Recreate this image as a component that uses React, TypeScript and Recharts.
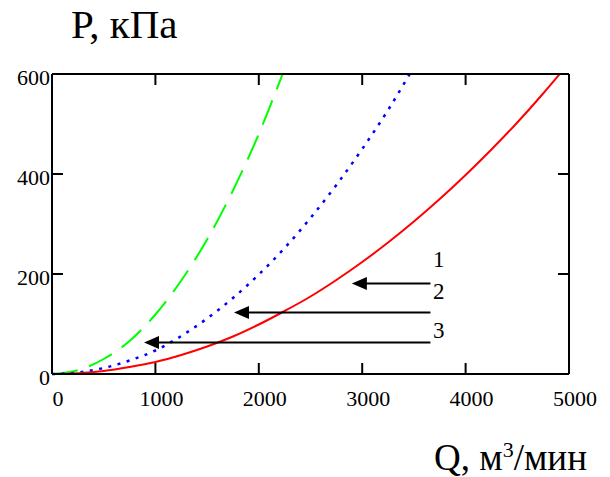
import {
  LineChart,
  Line,
  XAxis,
  YAxis,
  ReferenceLine,
  ReferenceDot,
} from 'recharts'

// values (Q in m3/min, P in kPa)
const qRed = [0, 250, 500, 750, 1000, 1250, 1500, 1750, 2000, 2250, 2500, 2750, 3000, 3250, 3500, 3750, 4000, 4250, 4500, 4750, 4910]
const pRed = [0, 1.6, 6, 14, 24, 38, 55, 75, 99, 126, 155, 188, 224, 263, 305, 350, 398, 449, 503, 561, 600]

const qBlue = [0, 250, 500, 750, 1000, 1250, 1500, 1750, 2000, 2250, 2500, 2750, 3000, 3250, 3460]
const pBlue = [0, 3, 12, 27, 47, 76, 111, 152, 199, 252, 312, 378, 450, 528, 600]

const qGreen = [0, 250, 500, 750, 1000, 1250, 1500, 1750, 2000, 2230]
const pGreen = [0, 7.5, 30, 66, 119, 187, 269, 367, 480, 600]

const xTicks = [0, 1000, 2000, 3000, 4000, 5000]
const yTicks = [0, 200, 400, 600]
const innerXTicks = [1000, 2000, 3000, 4000]
const innerYTicks = [200, 400]

// arrows 1..3 and their numbers
const arrowNames = ['1', '2', '3']
const arrowTipQ = [2900, 1760, 890]
const arrowP = [181, 123, 63]
const arrowTailQ = 3660
const nameQ = 3740
const nameP = [231, 166, 88]

const FONT = '"Liberation Serif", "Times New Roman", serif'
const BLACK = '#000'
// inward tick length, in axis units (about 11px)
const TICK_P = 22
const TICK_Q = 106

const toPoints = (qs: number[], ps: number[]) => qs.map((q, i) => ({ q, p: ps[i] }))
const redData = toPoints(qRed, pRed)
const blueData = toPoints(qBlue, pBlue)
const greenData = toPoints(qGreen, pGreen)

const labelStyle = { fontFamily: FONT, fontSize: 22, fill: BLACK }

function XTick(props: any) {
  const { x, y, payload } = props
  return (
    <text x={x + 6} y={y + 32} textAnchor="middle" style={labelStyle}>
      {payload.value}
    </text>
  )
}

function YTick(props: any) {
  const { x, y, payload } = props
  return (
    <text x={x - 2} y={y + 11} textAnchor="end" style={labelStyle}>
      {payload.value}
    </text>
  )
}

function ArrowHead(props: any) {
  const { cx, cy } = props
  return <path d={`M${cx},${cy} L${cx + 15},${cy - 6.5} L${cx + 15},${cy + 6.5} Z`} fill={BLACK} />
}

function nameShape(text: string) {
  return (props: any) => (
    <text x={props.cx} y={props.cy + 8} textAnchor="middle" style={{ ...labelStyle, fontSize: 23 }}>
      {text}
    </text>
  )
}

const axisLine = { stroke: BLACK, strokeWidth: 2 }

export default function App() {
  return (
    <div style={{ position: 'absolute', left: 0, top: 0, width: 610, height: 477, background: '#fff' }}>
      <LineChart width={610} height={477} margin={{ top: 74, right: 41, bottom: 73, left: 0 }}>
        <XAxis
          dataKey="q"
          type="number"
          domain={[0, 5000]}
          ticks={xTicks}
          interval={0}
          height={30}
          tickSize={0}
          tickMargin={0}
          tickLine={false}
          axisLine={axisLine}
          tick={XTick}
        />
        <XAxis xAxisId="t" orientation="top" type="number" domain={[0, 5000]} ticks={xTicks} interval={0} mirror
          tickLine={false} axisLine={axisLine} tick={false} />
        <YAxis
          type="number"
          domain={[0, 600]}
          ticks={yTicks}
          interval={0}
          width={52}
          tickSize={0}
          tickMargin={0}
          tickLine={false}
          axisLine={axisLine}
          tick={YTick}
        />
        <YAxis yAxisId="r" orientation="right" type="number" domain={[0, 600]} ticks={yTicks} interval={0} mirror
          tickLine={false} axisLine={axisLine} tick={false} />

        {innerXTicks.map((q) => (
          <ReferenceLine key={'bt' + q} segment={[{ x: q, y: 0 }, { x: q, y: TICK_P }]} stroke={BLACK} strokeWidth={2} />
        ))}
        {innerXTicks.map((q) => (
          <ReferenceLine key={'tt' + q} segment={[{ x: q, y: 600 - TICK_P }, { x: q, y: 600 }]} stroke={BLACK} strokeWidth={2} />
        ))}
        {innerYTicks.map((p) => (
          <ReferenceLine key={'lt' + p} segment={[{ x: 0, y: p }, { x: TICK_Q, y: p }]} stroke={BLACK} strokeWidth={2} />
        ))}
        {innerYTicks.map((p) => (
          <ReferenceLine key={'rt' + p} segment={[{ x: 5000 - TICK_Q, y: p }, { x: 5000, y: p }]} stroke={BLACK} strokeWidth={2} />
        ))}

        <Line data={greenData} dataKey="p" type="monotone" stroke="#00ff00" strokeWidth={2}
          strokeDasharray="26 12" dot={false} isAnimationActive={false} />
        <Line data={blueData} dataKey="p" type="monotone" stroke="#0000ff" strokeWidth={2.5}
          strokeDasharray="3 6.5" dot={false} isAnimationActive={false} />
        <Line data={redData} dataKey="p" type="monotone" stroke="#ff0000" strokeWidth={2}
          dot={false} isAnimationActive={false} />

        {arrowNames.map((n, i) => (
          <ReferenceLine key={'l' + n} segment={[{ x: arrowTipQ[i] + 100, y: arrowP[i] }, { x: arrowTailQ, y: arrowP[i] }]}
            stroke={BLACK} strokeWidth={2} />
        ))}
        {arrowNames.map((n, i) => (
          <ReferenceDot key={'h' + n} x={arrowTipQ[i]} y={arrowP[i]} shape={ArrowHead} />
        ))}
        {arrowNames.map((n, i) => (
          <ReferenceDot key={'n' + n} x={nameQ} y={nameP[i]} shape={nameShape(n)} />
        ))}
      </LineChart>

      <div style={{ position: 'absolute', left: 71, top: 4, fontFamily: FONT, fontSize: 41, lineHeight: 1, whiteSpace: 'nowrap' }}>
        P, кПа
      </div>
      <div style={{ position: 'absolute', left: 434, top: 439, fontFamily: FONT, fontSize: 37, lineHeight: 1, whiteSpace: 'nowrap' }}>
        Q, м<span style={{ fontSize: 22, position: 'relative', top: -13 }}>3</span>/мин
      </div>
    </div>
  )
}
